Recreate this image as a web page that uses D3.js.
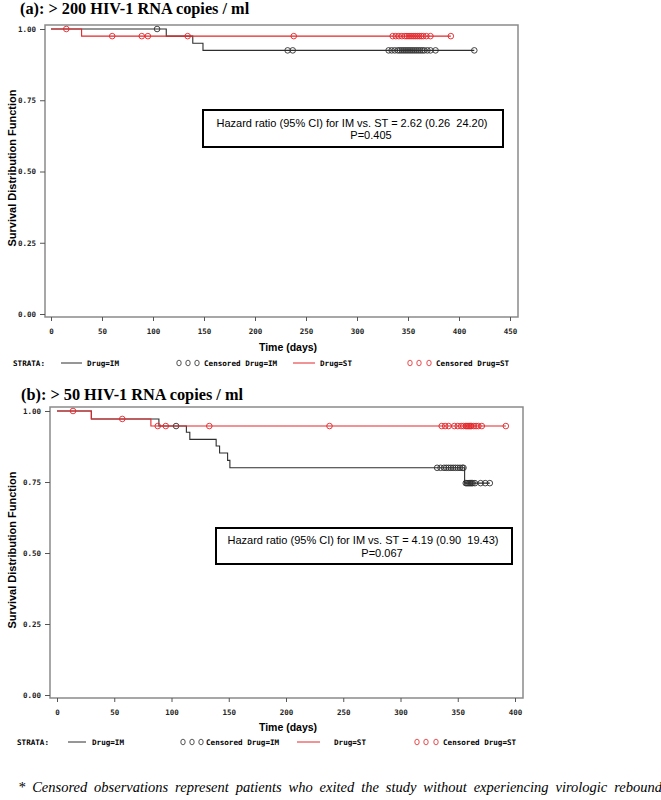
<!DOCTYPE html>
<html>
<head>
<meta charset="utf-8">
<script src="https://cdn.jsdelivr.net/npm/d3@7"></script>
<style>
body { margin: 0; background: #fff; }
svg { display: block; }
.tick text { font-family: "DejaVu Sans Mono", monospace; font-weight: bold; font-size: 7.5px; fill: #222; }
.tick line { stroke: #555; }
</style>
</head>
<body>
<svg id="chart" width="661" height="800"></svg>
<script>
// ---- panel (a): > 200 copies/ml ----
var titleA = "(a): > 200 HIV-1 RNA copies / ml";
var xTicksA = [0, 50, 100, 150, 200, 250, 300, 350, 400, 450];
var imTimesA = [113, 139, 149];
var imSurvA  = [0.975, 0.95, 0.925];
var imEndA = 415;
var imCensA = [104, 232, 237, 331, 334, 337, 340, 342, 344, 346, 348, 350, 352, 354, 356, 358,
               360, 362, 364, 366, 369, 372, 377, 415];
var stTimesA = [30];
var stSurvA  = [0.975];
var stEndA = 392;
var stCensA = [15, 60, 89, 95, 134, 238, 335, 338, 341, 344, 347, 349, 351, 353, 355, 357,
               359, 361, 363, 365, 368, 372, 392];
var hrA = ["Hazard ratio (95% CI) for IM vs. ST = 2.62 (0.26  24.20)", "P=0.405"];

// ---- panel (b): > 50 copies/ml ----
var titleB = "(b): > 50 HIV-1 RNA copies / ml";
var xTicksB = [0, 50, 100, 150, 200, 250, 300, 350, 400];
var imTimesB = [30, 89, 113, 116, 139, 142, 149, 151, 356];
var imSurvB  = [0.972, 0.947, 0.925, 0.90, 0.877, 0.852, 0.826, 0.80, 0.746];
var imEndB = 378;
var imCensB = [104, 332, 335, 338, 340, 342, 344, 346, 348, 350, 352, 354, 355,
               357, 358, 359, 360, 361, 362, 363, 365, 370, 374, 378];
var stTimesB = [30, 82];
var stSurvB  = [0.972, 0.947];
var stEndB = 392;
var stCensB = [14, 57, 88, 95, 133, 238, 336, 339, 342, 347, 350, 353, 355, 357, 358, 359,
               360, 361, 362, 364, 366, 368, 371, 392];
var hrB = ["Hazard ratio (95% CI) for IM vs. ST = 4.19 (0.90  19.43)", "P=0.067"];

var yTicks = [0, 0.25, 0.5, 0.75, 1];
var legendLabels = ["Drug=IM", "Censored Drug=IM", "Drug=ST", "Censored Drug=ST"];
var footnote = "* Censored observations represent patients who exited the study without experiencing virologic rebound";

var BLACK = "#2e2e2e", RED = "#e4262a";
var svg = d3.select("#chart");

function survAt(times, surv, t) {
    var s = 1;
    times.forEach(function(tt, i) { if (tt <= t) s = surv[i]; });
    return s;
}

function drawPanel(p) {
    var g = svg.append("g");
    var x = d3.scaleLinear().domain([0, p.xMax]).range([p.x0, p.x1]);
    var y = d3.scaleLinear().domain([0, 1]).range([p.y0, p.y1]);

    g.append("text")
        .attr("x", p.titleX).attr("y", p.titleY)
        .style("font-family", "'Liberation Serif', 'Times New Roman', serif")
        .style("font-weight", "bold").style("font-size", "16.3px")
        .text(p.title);

    // frame
    g.append("rect")
        .attr("x", p.frame[0]).attr("y", p.frame[1])
        .attr("width", p.frame[2] - p.frame[0]).attr("height", p.frame[3] - p.frame[1])
        .attr("fill", "none").attr("stroke", "#8a8a8a").attr("stroke-width", 1.5);

    var ya = g.append("g").attr("transform", "translate(" + p.frame[0] + ",0)")
        .call(d3.axisLeft(y).tickValues(yTicks).tickFormat(d3.format(".2f"))
              .tickSize(5).tickSizeOuter(0).tickPadding(4));
    ya.select(".domain").remove();

    var xa = g.append("g").attr("transform", "translate(0," + p.frame[3] + ")")
        .call(d3.axisBottom(x).tickValues(p.xTicks).tickFormat(d3.format("d"))
              .tickSize(4).tickSizeOuter(0).tickPadding(8));
    xa.select(".domain").remove();

    g.append("text")
        .attr("transform", "translate(" + p.ylabX + "," + p.ylabY + ") rotate(-90)")
        .attr("text-anchor", "middle")
        .style("font-family", "'Liberation Sans', Arial, sans-serif")
        .style("font-weight", "bold").style("font-size", "11px")
        .text("Survival Distribution Function");

    g.append("text")
        .attr("x", 288).attr("y", p.xlabY)
        .attr("text-anchor", "middle")
        .style("font-family", "'Liberation Sans', Arial, sans-serif")
        .style("font-weight", "bold").style("font-size", "10.5px")
        .text("Time (days)");

    var line = d3.line()
        .curve(d3.curveStepAfter)
        .x(function(d) { return x(d[0]); })
        .y(function(d) { return y(d[1]); });

    p.series.forEach(function(s) {
        var pts = [[0, 1]];
        s.times.forEach(function(t, i) { pts.push([t, s.surv[i]]); });
        pts.push([s.end, s.surv[s.surv.length - 1]]);
        g.append("path")
            .attr("d", line(pts))
            .attr("fill", "none").attr("stroke", s.color).attr("stroke-width", 1.1);
        g.append("g").selectAll("circle")
            .data(s.cens).enter().append("circle")
            .attr("cx", function(d) { return x(d); })
            .attr("cy", function(d) { return y(survAt(s.times, s.surv, d)); })
            .attr("r", 2.8)
            .attr("fill", "none").attr("stroke", s.color).attr("stroke-width", 0.9);
    });

    // hazard ratio box
    var b = p.box;
    g.append("rect")
        .attr("x", b[0]).attr("y", b[1]).attr("width", b[2] - b[0]).attr("height", b[3] - b[1])
        .attr("fill", "#fff").attr("stroke", "#000").attr("stroke-width", 2);
    p.hr.forEach(function(t, i) {
        g.append("text")
            .attr("x", p.hrX[i]).attr("y", p.hrY[i])
            .attr("text-anchor", "middle")
            .style("white-space", "pre")
            .style("font-family", "'Liberation Sans', Arial, sans-serif")
            .style("font-size", "11px")
            .text(t);
    });

    // legend
    var lg = g.append("g").attr("transform", "translate(0," + p.legY + ")");
    var mono = function(sel) {
        return sel.style("font-family", "'DejaVu Sans Mono', monospace")
            .style("font-weight", "bold").style("font-size", "7.6px").attr("dy", "0.35em");
    };
    mono(lg.append("text").attr("x", p.leg.strata).text("STRATA:"));
    [[p.leg.line1, BLACK], [p.leg.line2, RED]].forEach(function(l) {
        lg.append("line").attr("x1", l[0][0]).attr("x2", l[0][1])
            .attr("stroke", l[1]).attr("stroke-width", 1);
    });
    [[p.leg.circ1, BLACK], [p.leg.circ2, RED]].forEach(function(c) {
        lg.selectAll(null).data(c[0]).enter().append("ellipse")
            .attr("cx", function(d) { return d; }).attr("rx", 2.2).attr("ry", 2.8)
            .attr("fill", "none").attr("stroke", c[1]).attr("stroke-width", 0.8);
    });
    legendLabels.forEach(function(t, i) {
        mono(lg.append("text").attr("x", p.leg.labels[i]).text(t));
    });
}

drawPanel({
    title: titleA, titleX: 20, titleY: 14,
    frame: [45, 25, 518, 317],
    xMax: 450, x0: 51, x1: 510, y0: 314, y1: 29,
    xTicks: xTicksA,
    ylabX: 16, ylabY: 168, xlabY: 351,
    series: [
        {times: imTimesA, surv: imSurvA, end: imEndA, cens: imCensA, color: BLACK},
        {times: stTimesA, surv: stSurvA, end: stEndA, cens: stCensA, color: RED}
    ],
    box: [203, 110, 503, 147], hr: hrA, hrX: [352, 371], hrY: [127, 139],
    legY: 363,
    leg: {strata: 13, line1: [61, 82], line2: [293, 315],
          circ1: [179, 188, 197], circ2: [410, 419, 429],
          labels: [87, 204, 320, 436]}
});

drawPanel({
    title: titleB, titleX: 21, titleY: 400,
    frame: [50, 407, 523, 698],
    xMax: 400, x0: 57, x1: 515, y0: 695, y1: 411,
    xTicks: xTicksB,
    ylabX: 16, ylabY: 550, xlabY: 731,
    series: [
        {times: imTimesB, surv: imSurvB, end: imEndB, cens: imCensB, color: BLACK},
        {times: stTimesB, surv: stSurvB, end: stEndB, cens: stCensB, color: RED}
    ],
    box: [216, 528, 512, 564], hr: hrB, hrX: [363, 382], hrY: [544, 557],
    legY: 742,
    leg: {strata: 17, line1: [68, 86], line2: [297, 320],
          circ1: [183, 192, 201], circ2: [417, 426, 436],
          labels: [92, 206, 334, 443]}
});

// footnote, justified word by word
var words = footnote.split(" ");
var fg = svg.append("g");
var wt = fg.selectAll("text").data(words).enter().append("text")
    .attr("y", 792)
    .style("font-family", "'Liberation Serif', 'Times New Roman', serif")
    .style("font-style", "italic").style("font-size", "14.5px")
    .text(function(d) { return d; });
var widths = [];
wt.each(function() { widths.push(this.getComputedTextLength()); });
var left = 18, right = 662;
var gap = (right - left - d3.sum(widths)) / (words.length - 1);
var cx = left;
wt.attr("x", function(d, i) { var v = cx; cx += widths[i] + gap; return v; });
</script>
</body>
</html>
